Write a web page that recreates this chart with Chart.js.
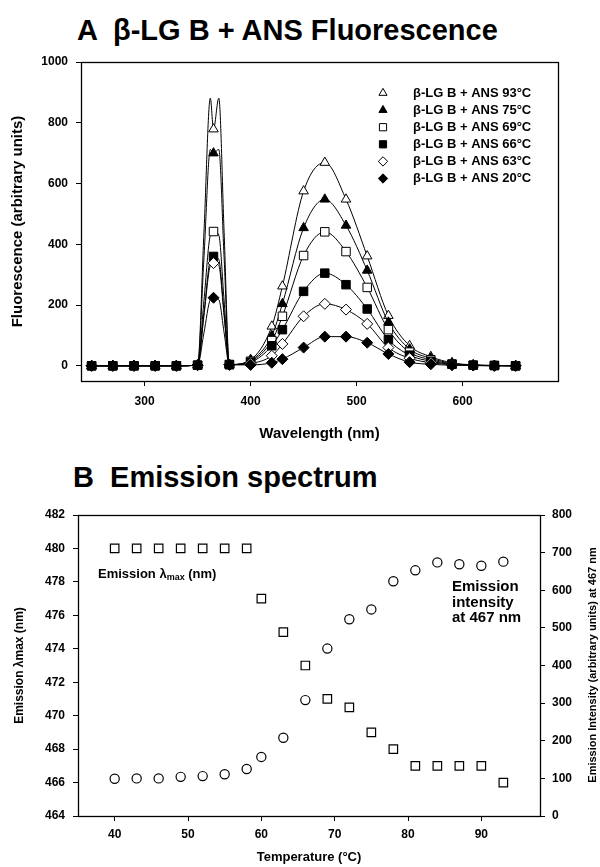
<!DOCTYPE html>
<html><head><meta charset="utf-8">
<script src="https://cdn.jsdelivr.net/npm/chart.js@4.4.1/dist/chart.umd.min.js"></script>
<style>
body{margin:0;background:#fff;width:600px;height:867px;position:relative;overflow:hidden;font-family:'Liberation Sans',Arial,sans-serif}
.t{position:absolute;font-weight:bold;font-size:29px;white-space:pre;line-height:1;color:#000}
canvas{position:absolute;left:0}
</style></head><body>
<div class="t" id="ta" style="left:77px;top:16px">A  β-LG B + ANS Fluorescence</div>
<div class="t" id="tb" style="left:73px;top:463px">B  Emission spectrum</div>
<canvas id="cA" width="600" height="445" style="top:0"></canvas>
<canvas id="cB" width="600" height="422" style="top:445px"></canvas>
<script>
// ---------- Data: panel A ----------
const wavelengths = [250,270,290,310,330,350,356,362,365,370,375,380,400,420,430,450,470,490,510,530,550,570,590,610,630,650];
const markerWavelengths = [250,270,290,310,330,350,365,380,400,420,430,450,470,490,510,530,550,570,590,610,630,650];
const seriesLabels = ['β-LG B + ANS 93°C','β-LG B + ANS 75°C','β-LG B + ANS 69°C','β-LG B + ANS 66°C','β-LG B + ANS 63°C','β-LG B + ANS 20°C'];
const f93 = [0,0,0,0,0,2,440,881,779,881,440,4,20,130,262,575,669,548,361,165,66,30,10,3,1,0];
const f75 = [0,0,0,0,0,2,356,712,700,712,356,4,18,99,204,454,548,462,314,143,55,25,8,2,1,0];
const f69 = [0,0,0,0,0,2,215,430,442,430,215,4,15,83,163,363,441,376,258,119,45,20,6,2,1,0];
const f66 = [0,0,0,0,0,2,175,350,360,350,175,4,12,66,119,245,305,267,187,86,35,15,5,2,1,0];
const f63 = [0,0,0,0,0,2,165,330,338,330,165,4,8,33,72,163,204,185,138,60,25,10,4,1,0,0];
const f20 = [0,0,0,0,0,2,109,218,224,218,109,3,3,10,22,60,96,96,76,39,12,5,2,1,0,0];
const xTicksA = [300,400,500,600];
const yTicksA = [0,200,400,600,800,1000];

// ---------- Data: panel B ----------
const temperatures = [40,43,46,49,52,55,58,60,63,66,69,72,75,78,81,84,87,90,93];
const lambdaMax = [480,480,480,480,480,480,480,477,475,473,471,470.5,469,468,467,467,467,467,466];
const intensity467 = [99,100,100,104,106,111,125,157,208,308,445,523,549,624,653,674,669,665,676];
const xTicksB = [40,50,60,70,80,90];
const yTicksBLeft = [464,466,468,470,472,474,476,478,480,482];
const yTicksBRight = [0,100,200,300,400,500,600,700,800];

// ---------- helpers ----------
const FONT = "'Liberation Sans', Arial, sans-serif";
Chart.defaults.font.family = FONT;
Chart.defaults.color = '#000';
const toPts = (xs, ys) => xs.map((x, i) => ({x: x, y: ys[i]}));
const fixTicks = (vals) => (scale) => { scale.ticks = vals.map(v => ({value: v})); };
const boldFont = (s) => ({family: FONT, size: s, weight: 'bold'});
const plain = (v) => String(v);

function drawMarker(ctx, style, fill, r, x, y) {
  ctx.save();
  ctx.fillStyle = fill; ctx.strokeStyle = '#000'; ctx.lineWidth = 1;
  if (Chart.helpers && Chart.helpers.drawPoint) {
    Chart.helpers.drawPoint(ctx, {pointStyle: style, radius: r, borderWidth: 1, rotation: 0}, x, y);
  }
  ctx.restore();
}

const boxPlugin = {
  id: 'box',
  beforeDatasetsDraw(chart) {
    const a = chart.chartArea, ctx = chart.ctx;
    ctx.save();
    ctx.strokeStyle = '#000'; ctx.lineWidth = 1.3;
    ctx.strokeRect(Math.round(a.left) + 0.5, Math.round(a.top) + 0.5, Math.round(a.right - a.left), Math.round(a.bottom - a.top));
    ctx.restore();
  }
};

// ---------- Panel A ----------
const seriesA = [f93, f75, f69, f66, f63, f20];
const styleA = [
  {ps: 'triangle', fill: '#fff', r: 5.5},
  {ps: 'triangle', fill: '#000', r: 5.5},
  {ps: 'rect', fill: '#fff', r: 6},
  {ps: 'rect', fill: '#000', r: 6},
  {ps: 'rectRot', fill: '#fff', r: 5.5},
  {ps: 'rectRot', fill: '#000', r: 5.5}
];
const datasetsA = seriesA.map((vals, i) => ({
  label: seriesLabels[i],
  data: toPts(wavelengths, vals),
  showLine: true,
  borderColor: '#000',
  borderWidth: 1,
  cubicInterpolationMode: 'monotone',
  pointStyle: styleA[i].ps,
  pointRadius: (c) => (c.raw && markerWavelengths.includes(c.raw.x)) ? styleA[i].r : 0,
  pointBackgroundColor: styleA[i].fill,
  pointBorderColor: '#000',
  pointBorderWidth: 1,
  order: 5 - i
}));

const legendA = {
  id: 'legendA',
  afterDraw(chart) {
    const ctx = chart.ctx;
    styleA.forEach((st, i) => {
      const y = 93 + i * 17.1;
      drawMarker(ctx, st.ps, st.fill, st.r * 0.85, 383, y);
      ctx.save();
      ctx.fillStyle = '#000';
      ctx.font = "bold 13px " + FONT;
      ctx.textBaseline = 'middle'; ctx.textAlign = 'left';
      ctx.fillText(seriesLabels[i], 413, y);
      ctx.restore();
    });
  }
};

new Chart(document.getElementById('cA'), {
  type: 'scatter',
  data: {datasets: datasetsA},
  options: {
    responsive: false, animation: false, devicePixelRatio: 1,
    layout: {padding: {top: 62, left: 0, right: 42, bottom: 0}},
    plugins: {legend: {display: false}, tooltip: {enabled: false}, title: {display: false}},
    scales: {
      x: {
        type: 'linear', min: 240, max: 690,
        afterBuildTicks: fixTicks(xTicksA),
        afterFit: (s) => { s.height = 64; },
        ticks: {font: boldFont(12), color: '#000', padding: 8, maxRotation: 0, callback: plain},
        grid: {display: true, drawOnChartArea: false, drawTicks: true, tickLength: 5, color: '#000'},
        border: {display: true, color: '#000', width: 1},
        title: {display: true, text: 'Wavelength (nm)', font: boldFont(15), color: '#000', padding: {top: 4, bottom: 2}}
      },
      y: {
        type: 'linear', min: -50, max: 1000,
        afterBuildTicks: fixTicks(yTicksA),
        afterFit: (s) => { s.width = 81; },
        ticks: {font: boldFont(12), color: '#000', padding: 8, callback: plain},
        grid: {display: true, drawOnChartArea: false, drawTicks: true, tickLength: 5, color: '#000'},
        border: {display: true, color: '#000', width: 1},
        title: {display: true, text: 'Fluorescence (arbitrary units)', font: boldFont(15), color: '#000', padding: {top: 9, bottom: 0}}
      }
    }
  },
  plugins: [boxPlugin, legendA]
});

// ---------- Panel B ----------
const annotB = {
  id: 'annotB',
  afterDraw(chart) {
    const ctx = chart.ctx;
    ctx.save();
    ctx.fillStyle = '#000';
    ctx.textBaseline = 'middle'; ctx.textAlign = 'left';
    // left annotation: Emission λmax (nm)
    let x = 98, y = 129;
    ctx.font = "bold 13px " + FONT;
    const p1 = 'Emission λ';
    ctx.fillText(p1, x, y); x += ctx.measureText(p1).width;
    ctx.font = "bold 9px " + FONT;
    ctx.fillText('max', x, y + 4); x += ctx.measureText('max').width;
    ctx.font = "bold 13px " + FONT;
    ctx.fillText(' (nm)', x, y);
    // right annotation
    ctx.font = "bold 15px " + FONT;
    ctx.fillText('Emission', 452, 142);
    ctx.fillText('intensity', 452, 158);
    ctx.fillText('at 467 nm', 452, 173);
    // right axis title (reads bottom to top)
    ctx.translate(593, 220);
    ctx.rotate(-Math.PI / 2);
    ctx.textAlign = 'center';
    ctx.font = "bold 11px " + FONT;
    ctx.fillText('Emission Intensity (arbitrary units) at 467 nm', 0, 0);
    ctx.restore();
  }
};

new Chart(document.getElementById('cB'), {
  type: 'scatter',
  data: {datasets: [
    {
      label: 'Emission λmax (nm)',
      data: toPts(temperatures, lambdaMax),
      yAxisID: 'y',
      showLine: false,
      pointStyle: 'rect', pointRadius: 6,
      pointBackgroundColor: '#fff', pointBorderColor: '#000', pointBorderWidth: 1.2
    },
    {
      label: 'Emission intensity at 467 nm',
      data: toPts(temperatures, intensity467),
      yAxisID: 'y2',
      showLine: false,
      pointStyle: 'circle', pointRadius: 4.6,
      pointBackgroundColor: '#fff', pointBorderColor: '#000', pointBorderWidth: 1.2
    }
  ]},
  options: {
    responsive: false, animation: false, devicePixelRatio: 1,
    layout: {padding: {top: 70, left: 0, right: 0, bottom: 0}},
    plugins: {legend: {display: false}, tooltip: {enabled: false}, title: {display: false}},
    scales: {
      x: {
        type: 'linear', min: 35, max: 98,
        afterBuildTicks: fixTicks(xTicksB),
        afterFit: (s) => { s.height = 51; },
        ticks: {font: boldFont(12), color: '#000', padding: 6, maxRotation: 0, callback: plain},
        grid: {display: true, drawOnChartArea: false, drawTicks: true, tickLength: 5, color: '#000'},
        border: {display: true, color: '#000', width: 1},
        title: {display: true, text: 'Temperature (°C)', font: boldFont(13), color: '#000', padding: {top: 4, bottom: 2}}
      },
      y: {
        type: 'linear', position: 'left', min: 464, max: 482,
        afterBuildTicks: fixTicks(yTicksBLeft),
        afterFit: (s) => { s.width = 78; },
        ticks: {font: boldFont(12), color: '#000', padding: 8, callback: plain},
        grid: {display: true, drawOnChartArea: false, drawTicks: true, tickLength: 5, color: '#000'},
        border: {display: true, color: '#000', width: 1},
        title: {display: true, text: 'Emission λmax (nm)', font: boldFont(12), color: '#000', padding: {top: 12, bottom: 0}}
      },
      y2: {
        type: 'linear', position: 'right', min: 0, max: 800,
        afterBuildTicks: fixTicks(yTicksBRight),
        afterFit: (s) => { s.width = 60; },
        ticks: {font: boldFont(12), color: '#000', padding: 7, callback: plain},
        grid: {display: true, drawOnChartArea: false, drawTicks: true, tickLength: 5, color: '#000'},
        border: {display: true, color: '#000', width: 1},
        title: {display: false}
      }
    }
  },
  plugins: [boxPlugin, annotB]
});
</script>
</body></html>
